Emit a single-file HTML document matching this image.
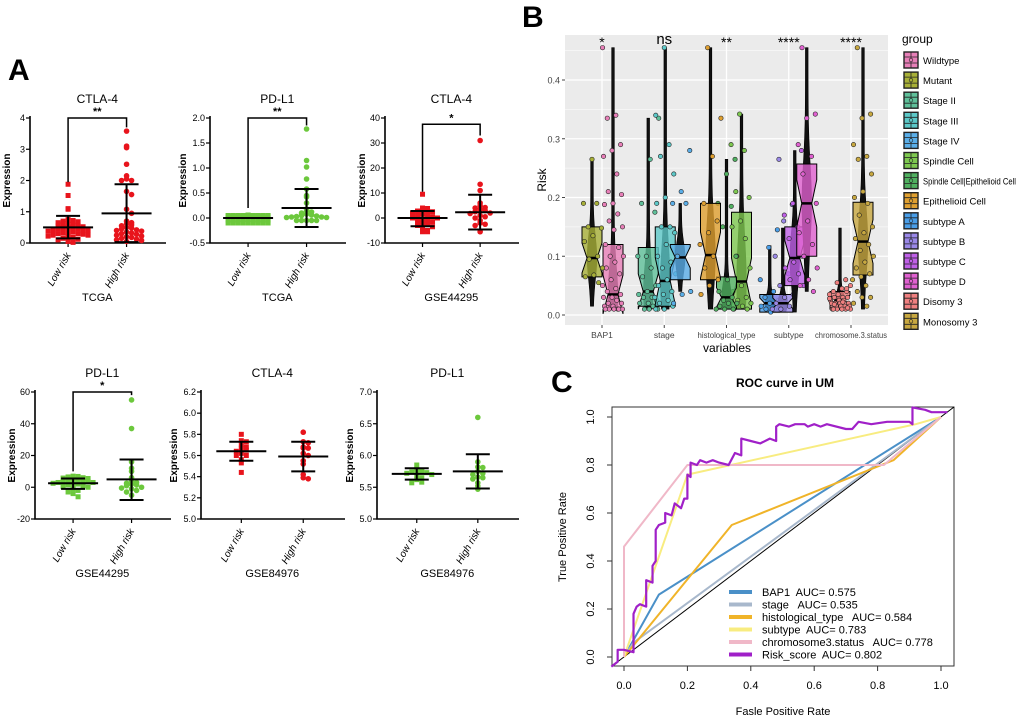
<!DOCTYPE html>
<html><head><meta charset="utf-8"><style>
html,body{margin:0;padding:0;background:#fff;}
svg{display:block;font-family:"Liberation Sans",sans-serif;}
.n{font-family:"Liberation Sans Narrow","Liberation Sans",sans-serif;}
text{white-space:pre;}
</style></head><body>
<svg id="chart" width="1020" height="719" viewBox="0 0 1020 719"></svg>
<script>
// ---------- Panel A data ----------
const aLow1=[1.88,1.52,1.1,1.08,0.75,0.72,0.7,0.68,0.65,0.62,0.6,0.58,0.55,0.55,0.52,0.5,0.5,0.48,0.45,0.45,0.42,0.4,0.4,0.38,0.35,0.35,0.32,0.3,0.3,0.28,0.25,0.25,0.22,0.2,0.18,0.15,0.12,0.1,0.05,0.02];
const aHigh1=[3.58,3.1,3.05,2.52,2.15,2.05,2.0,2.0,1.65,1.55,1.08,0.95,0.7,0.65,0.62,0.58,0.55,0.5,0.48,0.45,0.42,0.4,0.38,0.35,0.32,0.3,0.28,0.25,0.22,0.2,0.18,0.15,0.12,0.1,0.08,0.05];
const aLow2=[0.06,0.05,0.04,0.04,0.03,0.03,0.03,0.02,0.02,0.02,0.02,0.02,0.01,0.01,0.01,0.01,0.01,0.01,0.01,0,0,0,0,0,0,0,0,0,0,0,0,0,0,0,0,0];
const aHigh2=[1.78,1.15,1.02,0.78,0.58,0.45,0.42,0.3,0.18,0.15,0.12,0.1,0.08,0.06,0.05,0.04,0.03,0.02,0.02,0.01,0.01,0,0,0,0,0];
const aLow3=[9.5,4,3.5,3,2.5,2,1.5,1,0.5,0,0,-0.5,-1,-1,-1.5,-2,-2.5,-3,-3.5,-4,-5,-5.5,-5.5,3.8,2.8,0.8];
const aHigh3=[31,13.5,11,6,5,4,3.5,3,2.5,2,1,0,-1,-2,-3,-5.5,4.2,1.8,0.5,-2.5];
const aLow4=[7,6.5,6,5.5,5,5,4.5,4,4,3.5,3,3,2.5,2,2,1.5,1,0.5,0,-1,-2,-3,-4,-6,6.8,5.8];
const aHigh4=[55,37,16,12,10,6,4,3,2,1,0,-1,-2,-3,-5,2.5,1.5,-0.5];
const aLow5=[5.8,5.74,5.73,5.7,5.68,5.67,5.65,5.64,5.62,5.6,5.6,5.56,5.53,5.44];
const aHigh5=[5.82,5.73,5.72,5.68,5.67,5.67,5.62,5.6,5.55,5.52,5.42,5.39,5.38];
const aLow6=[5.85,5.78,5.77,5.76,5.75,5.74,5.73,5.72,5.7,5.68,5.65,5.62,5.58,5.57];
const aHigh6=[6.6,5.9,5.82,5.81,5.75,5.72,5.7,5.66,5.65,5.63,5.57,5.52,5.47];
const aMeans=[[0.5,0.95],[0.0,0.2],[0,2.3],[2.5,5],[5.64,5.59],[5.71,5.75]];
const aSdLo=[[0.15,0.03],[0,-0.18],[-3.3,-4.6],[-1,-8],[5.55,5.45],[5.62,5.48]];
const aSdHi=[[0.87,1.88],[0,0.58],[2.8,9.3],[5.5,17.5],[5.73,5.73],[5.8,6.02]];
const aTitles=['CTLA-4','PD-L1','CTLA-4','PD-L1','CTLA-4','PD-L1'];
const aSubs=['TCGA','TCGA','GSE44295','GSE44295','GSE84976','GSE84976'];
const aTicks=[[0,1,2,3,4],[-0.5,0,0.5,1,1.5,2],[-10,0,10,20,30,40],[-20,0,20,40,60],[5,5.2,5.4,5.6,5.8,6,6.2],[5,5.5,6,6.5,7]];
const aSig=['**','**','*','*','',''];
const aSigTop=[4,2,37.5,60,null,null];
const aSigL=[1.95,0.2,10.5,10,null,null];
const aSigR=[3.7,1.85,33,58,null,null];
const aLows=[aLow1,aLow2,aLow3,aLow4,aLow5,aLow6];
const aHighs=[aHigh1,aHigh2,aHigh3,aHigh4,aHigh5,aHigh6];
const aLay=[
 {ax:30,x1:166,yT:118,yB:243,dec:0,col:'#e8141c'},
 {ax:210,x1:346,yT:118,yB:243,dec:1,col:'#6cc83c'},
 {ax:385,x1:519,yT:118,yB:243,dec:0,col:'#e8141c'},
 {ax:35,x1:171,yT:392,yB:519,dec:0,col:'#6cc83c'},
 {ax:201,x1:345,yT:392,yB:519,dec:1,col:'#e8141c'},
 {ax:377,x1:519,yT:392,yB:519,dec:1,col:'#6cc83c'}];

// ---------- Panel B data ----------
const bCats=['BAP1','stage','histological_type','subtype','chromosome.3.status'];
const bSig=['*','ns','**','****','****'];
const bGroups=['Wildtype','Mutant','Stage II','Stage III','Stage IV','Spindle Cell','Spindle Cell|Epithelioid Cell','Epithelioid Cell','subtype A','subtype B','subtype C','subtype D','Disomy 3','Monosomy 3'];
const bColors=['#e87fb8','#a8b038','#5fc09a','#5cc8c8','#5aaee8','#7ec850','#50b060','#e0a030','#4a9ee8','#9a88e8','#c060e8','#e060d0','#f08080','#c8a840'];
const bCatIdx=[0,0,1,1,1,2,2,2,3,3,3,3,4,4];
const bOffset=[11,-10,-16,1,16,15,0,-16,-19,-6,6,18,-11,12];
const bQ1=[0.01,0.065,0.015,0.015,0.06,0.01,0.01,0.06,0.005,0.005,0.05,0.1,0.01,0.068];
const bMed=[0.035,0.097,0.04,0.058,0.098,0.057,0.03,0.102,0.02,0.02,0.097,0.19,0.025,0.125];
const bQ3=[0.12,0.15,0.115,0.15,0.12,0.175,0.065,0.19,0.035,0.035,0.15,0.257,0.04,0.192];
const bLo=[0.01,0.015,0.01,0.01,0.04,0.01,0.01,0.01,0.005,0.005,0.005,0.04,0.01,0.01];
const bHi=[0.455,0.265,0.335,0.455,0.19,0.342,0.265,0.455,0.118,0.148,0.28,0.455,0.148,0.455];
const bPts=[
 [0.455,0.34,0.335,0.29,0.28,0.27,0.24,0.21,0.205,0.19,0.188,0.172,0.16,0.15,0.145,0.12,0.115,0.1,0.1,0.09,0.08,0.07,0.06,0.05,0.045,0.04,0.035,0.03,0.03,0.025,0.02,0.02,0.015,0.015,0.01,0.01,0.01,0.01,0.01,0.01],
 [0.265,0.19,0.19,0.15,0.148,0.135,0.125,0.1,0.095,0.08,0.068,0.065,0.055],
 [0.335,0.265,0.19,0.175,0.1,0.1,0.08,0.065,0.05,0.04,0.035,0.03,0.03,0.025,0.02,0.02,0.015,0.01,0.01,0.01],
 [0.455,0.34,0.29,0.27,0.24,0.2,0.19,0.15,0.15,0.14,0.12,0.1,0.09,0.08,0.07,0.06,0.05,0.04,0.035,0.03,0.025,0.02,0.015,0.01,0.01],
 [0.28,0.21,0.19,0.19,0.1,0.04,0.035,0.02],
 [0.342,0.29,0.28,0.21,0.2,0.16,0.15,0.13,0.1,0.08,0.05,0.04,0.03,0.025,0.02,0.015,0.01,0.01],
 [0.265,0.24,0.19,0.185,0.15,0.1,0.06,0.04,0.03,0.025,0.02,0.02,0.015,0.01,0.01,0.01],
 [0.455,0.335,0.27,0.19,0.16,0.14,0.12,0.1,0.08,0.06,0.05,0.035],
 [0.145,0.115,0.06,0.04,0.03,0.025,0.02,0.015,0.01,0.01,0.01,0.005],
 [0.265,0.188,0.16,0.1,0.07,0.05,0.035,0.03,0.02,0.015,0.01,0.01],
 [0.28,0.19,0.17,0.15,0.13,0.1,0.09,0.08,0.07,0.06,0.05],
 [0.455,0.342,0.335,0.29,0.27,0.24,0.19,0.16,0.14,0.12,0.1,0.08,0.06,0.05,0.04],
 [0.06,0.055,0.05,0.045,0.04,0.04,0.035,0.035,0.03,0.03,0.03,0.025,0.025,0.025,0.02,0.02,0.02,0.02,0.015,0.015,0.015,0.015,0.01,0.01,0.01,0.01,0.01,0.01,0.045,0.035,0.028,0.022,0.018,0.012],
 [0.455,0.342,0.335,0.29,0.27,0.265,0.24,0.21,0.2,0.19,0.17,0.15,0.14,0.13,0.12,0.11,0.1,0.09,0.08,0.07,0.065,0.06,0.05,0.04,0.03,0.03,0.02,0.015]];
const bTicks=[0,0.1,0.2,0.3,0.4];

// ---------- Panel C data ----------
const cNames=['BAP1','stage','histological_type','subtype','chromosome3.status','Risk_score'];
const cAuc=['0.575','0.535','0.584','0.783','0.778','0.802'];
const cColors=['#4a90c8','#a8b8cc','#f0b429','#f8ec80','#f0b8c8','#a020c8'];
const cFpr=[
 [0,0.11,1],[0,0.03,1],[0,0.34,0.85,1],[0,0.2,0.92,1],[0,0,0.2,0.82,1],
 [-0.04,-0.02,-0.02,0,0.03,0.03,0.04,0.05,0.07,0.07,0.09,0.09,0.1,0.1,0.11,0.13,0.13,0.15,0.16,0.18,0.19,0.2,0.2,0.21,0.21,0.23,0.24,0.26,0.28,0.3,0.33,0.35,0.37,0.37,0.4,0.43,0.46,0.48,0.48,0.49,0.52,0.54,0.57,0.58,0.6,0.62,0.64,0.7,0.72,0.74,0.78,0.83,0.86,0.9,0.91,0.91,0.95,0.97,1.02]];
const cTpr=[
 [0,0.26,1],[0,0.06,1],[0,0.55,0.82,1],[0,0.76,0.97,1],[0,0.46,0.8,0.8,1],
 [-0.04,-0.02,0.03,0.03,0.02,0.18,0.21,0.22,0.21,0.32,0.31,0.38,0.4,0.53,0.55,0.56,0.6,0.59,0.64,0.62,0.66,0.66,0.76,0.75,0.81,0.8,0.82,0.81,0.82,0.81,0.8,0.85,0.84,0.91,0.9,0.89,0.91,0.9,0.96,0.97,0.96,0.97,0.97,0.96,0.97,0.96,0.97,0.95,0.95,0.98,0.97,0.98,0.98,0.98,0.97,1.04,1.03,1.02,1.02]];
const cTicks=[0,0.2,0.4,0.6,0.8,1.0];

const svg=document.getElementById('chart');
const NS='http://www.w3.org/2000/svg';
function mk(tag,attrs,parent){const e=document.createElementNS(NS,tag);for(const k in attrs)e.setAttribute(k,attrs[k]);(parent||svg).appendChild(e);return e;}
function txt(s,attrs,parent){const e=mk('text',attrs,parent);e.textContent=s;return e;}

let L=txt('A',{x:8,y:80,'font-size':30,'font-weight':'bold'});


L=txt('B',{x:522,y:27,'font-size':30,'font-weight':'bold'});


L=txt('C',{x:551,y:392,'font-size':30,'font-weight':'bold'});



// ---------- Panel A ----------
aLay.forEach((p,i)=>{
 const g=mk('g',{class:'n'});
 
 
 const mn=aTicks[i][0],mx=aTicks[i][aTicks[i].length-1];
 const y=v=>p.yB-(v-mn)/(mx-mn)*(p.yB-p.yT);
 const xl=p.ax+(p.x1-p.ax)*0.28, xh=p.ax+(p.x1-p.ax)*0.71;
 let t=txt(aTitles[i],{x:(xl+xh)/2,y:p.yT-15,'text-anchor':'middle','font-size':12},g);
 
 
 t=txt('Expression',{transform:`translate(${p.ax-(p.dec?24:20)},${(p.yT+p.yB)/2}) rotate(-90)`,'text-anchor':'middle','font-size':10,'font-weight':'bold'},g);
 
 
 t=txt(aSubs[i],{x:(xl+xh)/2,y:p.yB+58,'text-anchor':'middle','font-size':11},g);
 
 
 const ax=mk('path',{d:`M${p.ax},${p.yT-2}V${p.yB}H${p.x1}`,stroke:'#000','stroke-width':1.6,fill:'none'},g);
 
 
 aTicks[i].forEach(v=>{
  mk('line',{x1:p.ax-4,x2:p.ax,y1:y(v),y2:y(v),stroke:'#000','stroke-width':1.2},g);
  const tl=txt(v.toFixed(p.dec),{x:p.ax-5,y:y(v)+3,'text-anchor':'end','font-size':9},g);
  
  
 });
 [[xl,'Low risk'],[xh,'High risk']].forEach(([x,s])=>{
  mk('line',{x1:x,x2:x,y1:p.yB,y2:p.yB+4,stroke:'#000','stroke-width':1.2},g);
  const tl=txt(s,{transform:`translate(${x+3},${p.yB+12}) rotate(-60)`,'text-anchor':'end','font-size':10,'font-style':'italic'},g);
  
  
 });
 [[aLows[i],xl,'sq',0],[aHighs[i],xh,'ci',1]].forEach(([vals,cx,shape,k])=>{
  const bins={};
  [...vals].sort((a,b)=>b-a).forEach(v=>{
   const py0=y(v);const b=Math.round(py0/4.5);bins[b]=(bins[b]||0);const c=bins[b]++;
   const cc=c%9, row=Math.floor(c/9);
   const off=((cc+1)>>1)*5*(cc%2?1:-1);
   const py=py0+(row%2?1:-1)*Math.ceil(row/2)*2.5;
   let m;
   if(shape==='sq'){m=mk('rect',{x:cx+off-2.5,y:py-2.5,width:5,height:5,fill:p.col},g);}
   else{m=mk('circle',{cx:cx+off,cy:py,r:2.8,fill:p.col},g);}
   
   
  });
  const mean=mk('path',{d:`M${cx-25},${y(aMeans[i][k])}h50M${cx},${y(aSdLo[i][k])}V${y(aSdHi[i][k])}M${cx-12},${y(aSdLo[i][k])}h24M${cx-12},${y(aSdHi[i][k])}h24`,stroke:'#000','stroke-width':2,fill:'none'},g);
  
  
 });
 if(aSig[i]){
  const br=mk('path',{d:`M${xl},${y(aSigL[i])}V${y(aSigTop[i])}H${xh}V${y(aSigR[i])}`,stroke:'#000','stroke-width':1.5,fill:'none'},g);
  
  
  const st=txt(aSig[i],{x:(xl+xh)/2,y:y(aSigTop[i])-3,'text-anchor':'middle','font-size':11,'font-weight':'bold'},g);
  
  
 }
});

// ---------- Panel B ----------
(function(){
 const g=mk('g',{class:'n'});
 
 
 const X0=565,X1=888,Y0=35,Y1=325;
 const y=v=>315-v*587.5;
 const cx=i=>602+i*62.25;
 const bg=mk('rect',{x:X0,y:Y0,width:X1-X0,height:Y1-Y0,fill:'#ebebeb'},g);
 
 
 bTicks.forEach(v=>{mk('line',{x1:X0,x2:X1,y1:y(v),y2:y(v),stroke:'#fff','stroke-width':1.3},g);mk('line',{x1:X0,x2:X1,y1:y(v+0.05),y2:y(v+0.05),stroke:'#fff','stroke-width':0.6},g);
  const tl=txt(v.toFixed(1),{x:X0-5,y:y(v)+3.5,'text-anchor':'end','font-size':9,fill:'#444'},g);
  
  
  mk('line',{x1:X0-3,x2:X0,y1:y(v),y2:y(v),stroke:'#444'},g);});
 bCats.forEach((c,i)=>{mk('line',{x1:cx(i),x2:cx(i),y1:Y0,y2:Y1,stroke:'#fff','stroke-width':1.3},g);
  mk('line',{x1:cx(i),x2:cx(i),y1:Y1,y2:Y1+3,stroke:'#444'},g);
  const tl=txt(c,{x:cx(i),y:Y1+13,'text-anchor':'middle','font-size':8.5,fill:'#444'},g);
  if(i===4){tl.setAttribute('textLength','72');tl.setAttribute('lengthAdjust','spacingAndGlyphs');}
  if(i===2){tl.setAttribute('textLength','58');tl.setAttribute('lengthAdjust','spacingAndGlyphs');}
  
  
  const st=txt(bSig[i],{x:cx(i),y:bSig[i]==='ns'?44:47,'text-anchor':'middle','font-size':bSig[i]==='ns'?15:14},g);
  
  });
 bGroups.forEach((nm,i)=>{
  const x=cx(bCatIdx[i])+bOffset[i];
  let pts=[],pl=[];
  for(let s=0;s<=40;s++){const v=bLo[i]+(bHi[i]-bLo[i])*s/40;const sp=Math.max(bQ3[i]-bQ1[i],0.02)*0.6;
   const w=1.3+3.5*Math.exp(-Math.pow((v-bMed[i])/sp,2));pts.push(`${x+w},${y(v)}`);pl.unshift(`${x-w},${y(v)}`);}
  const vi=mk('polygon',{points:pts.concat(pl).join(' '),fill:'#111',stroke:'#000','stroke-width':0.6},g);
  
  
  const w=10,n=Math.min((bQ3[i]-bQ1[i])*0.3,0.04);
  const nh=y(bMed[i]+n),nl=y(bMed[i]-n),m=y(bMed[i]);
  const bx=mk('polygon',{points:`${x-w},${y(bQ3[i])} ${x+w},${y(bQ3[i])} ${x+w},${nh} ${x+w*0.5},${m} ${x+w},${nl} ${x+w},${y(bQ1[i])} ${x-w},${y(bQ1[i])} ${x-w},${nl} ${x-w*0.5},${m} ${x-w},${nh}`,fill:bColors[i],'fill-opacity':0.8,stroke:'#000','stroke-width':1},g);
  
  
  const md=mk('line',{x1:x-w*0.5,x2:x+w*0.5,y1:m,y2:m,stroke:'#000','stroke-width':2.5},g);
  
  
  bPts[i].forEach((v,k)=>{
   const j=((k*37+i*11)%23-11)*0.95;
   const c=mk('circle',{cx:x+j,cy:y(v),r:2.2,fill:bColors[i],stroke:'#222','stroke-width':0.6},g);
   
   
  });
 });
 let t=txt('Risk',{transform:`translate(546,${(Y0+Y1)/2}) rotate(-90)`,'text-anchor':'middle','font-size':12},g);
 
 
 t=txt('variables',{x:727,y:352,'text-anchor':'middle','font-size':12},g);
 
 
 t=txt('group',{x:902,y:43,'font-size':12},g);
 
 
 bGroups.forEach((nm,i)=>{
  const ly=60+i*20.1;
  const k=mk('rect',{x:904,y:ly-8,width:14,height:16,fill:bColors[i],stroke:'#222','stroke-width':1.4},g);
  
  
  mk('path',{d:`M904,${ly-3}h14M904,${ly+3}h14M911,${ly-8}v16`,stroke:'#222','stroke-width':0.8},g);
  mk('circle',{cx:911,cy:ly,r:1.8,fill:bColors[i],stroke:'#222','stroke-width':0.6},g);
  const e=txt(nm,{x:923,y:ly+4,'font-size':9.5},g);
  if(nm.length>20){e.setAttribute('textLength','93');e.setAttribute('lengthAdjust','spacingAndGlyphs');}
  
  
 });
})();

// ---------- Panel C ----------
(function(){
 const g=mk('g',{});
 
 
 const x=v=>624+v*317, y=v=>657-v*240;
 let t=txt('ROC curve in UM',{x:785,y:387,'text-anchor':'middle','font-size':12,'font-weight':'bold'},g);
 
 
 const box=mk('rect',{x:612,y:407,width:342,height:259,fill:'none',stroke:'#333','stroke-width':1},g);
 
 
 cTicks.forEach(v=>{
  mk('line',{x1:x(v),x2:x(v),y1:666,y2:671,stroke:'#333'},g);
  let tl=txt(v.toFixed(1),{x:x(v),y:689,'text-anchor':'middle','font-size':11},g);
  
  
  mk('line',{x1:607,x2:612,y1:y(v),y2:y(v),stroke:'#333'},g);
  tl=txt(v.toFixed(1),{transform:`translate(594,${y(v)}) rotate(-90)`,'text-anchor':'middle','font-size':11},g);
  
  
 });
 const d=mk('line',{x1:612,y1:666,x2:954,y2:407,stroke:'#000','stroke-width':1},g);
 
 
 cNames.forEach((nm,i)=>{
  const pth=mk('polyline',{points:cFpr[i].map((f,k)=>`${x(f)},${y(cTpr[i][k])}`).join(' '),fill:'none',stroke:cColors[i],'stroke-width':i===5?2.2:2,'stroke-linejoin':'round'},g);
  
  
 });
 const gaps=['  ','   ','   ','  ','   ','  '];
 cNames.forEach((nm,i)=>{
  const ly=592+i*12.5;
  const ln=mk('line',{x1:729,x2:752,y1:ly,y2:ly,stroke:cColors[i],'stroke-width':4},g);
  
  
  const e=txt(nm+gaps[i]+'AUC= '+cAuc[i],{x:762,y:ly+4,'font-size':11},g);
  
  
 });
 t=txt('Fasle Positive Rate',{x:783,y:715,'text-anchor':'middle','font-size':11},g);
 
 
 t=txt('True Positive Rate',{transform:'translate(566,537) rotate(-90)','text-anchor':'middle','font-size':11},g);
 
 
})();
</script>
</body></html>
